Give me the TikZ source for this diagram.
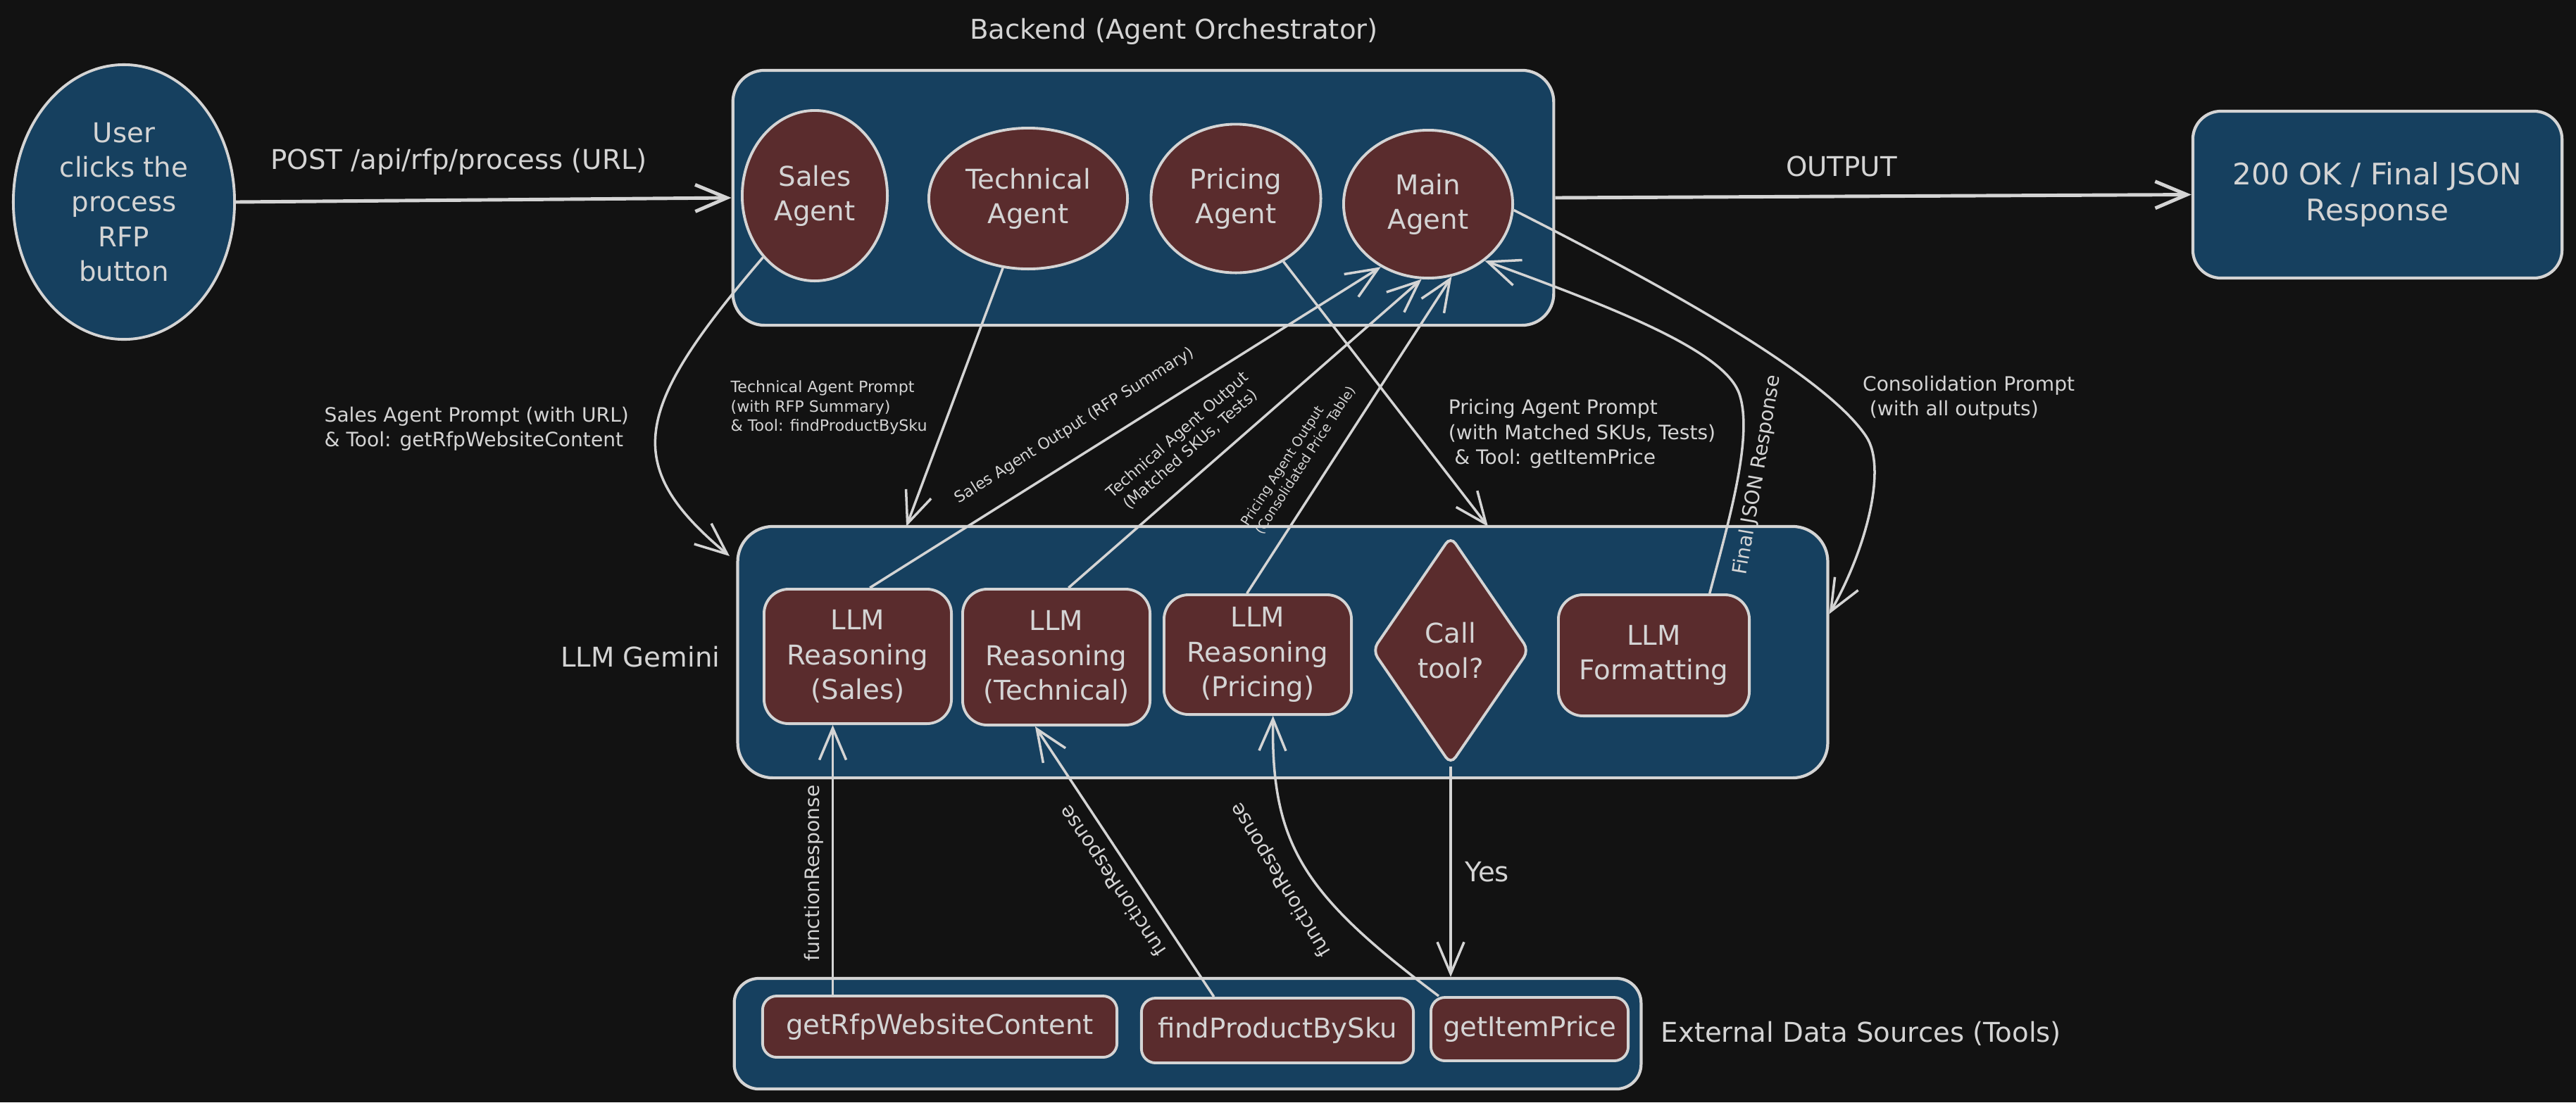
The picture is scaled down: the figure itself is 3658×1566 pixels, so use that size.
\documentclass[tikz,border=0pt]{standalone}
\usepackage{fontspec}
\setmainfont{DejaVu Sans}
\usepackage{xcolor}
\definecolor{bgcolor}{HTML}{121212}
\definecolor{groupcolor}{HTML}{16405F}
\definecolor{nodecolor}{HTML}{5A2C2D}
\definecolor{drawcolor}{HTML}{D4D4D4}
\usepackage{tikz}
\usetikzlibrary{arrows.meta, shapes.geometric}

\begin{document}
\begin{tikzpicture}[
  x=0.01cm, y=-0.01cm,
  line width=1.1pt,
  drawcolor,
  every node/.style={font=\fontsize{11}{14}\selectfont},
  group/.style={draw, fill=groupcolor, rounded corners=0.45cm, line width=1.2pt},
  agent/.style={ellipse, draw, fill=nodecolor, inner sep=0pt, align=center},
  reason/.style={draw, fill=nodecolor, rounded corners=0.35cm, inner sep=0pt, align=center, minimum width=2.66cm},
  decision/.style={diamond, draw, fill=nodecolor, inner sep=0pt, align=center, rounded corners=0.12cm},
  tool/.style={draw, fill=nodecolor, rounded corners=0.2cm, inner sep=0pt},
  flow/.style={-{Straight Barb[length=4.5mm, width=3.8mm]}, line width=1pt},
  note/.style={font=\fontsize{8}{10}\selectfont},
  fine/.style={font=\fontsize{6.3}{7.8}\selectfont},
  finer/.style={font=\fontsize{5.4}{6.6}\selectfont},
]

  \useasboundingbox (0,0) rectangle (3658,1566);
  \fill[bgcolor] (0,0) rectangle (3658,1566);

  \node[agent, fill=groupcolor, minimum width=3.14cm, minimum height=3.9cm] (user) at (176,287)
    {User\\clicks the\\process\\RFP\\button};

  % backend
  \node (backendtitle) at (1667,45) {Backend (Agent Orchestrator)};
  \node[group, minimum width=11.65cm, minimum height=3.62cm] (backend) at (1623.5,281) {};
  \node[agent, minimum width=2.06cm, minimum height=2.42cm] (sales) at (1157,278) {Sales\\Agent};
  \node[agent, minimum width=2.82cm, minimum height=2.0cm] (technical) at (1460,282) {Technical\\Agent};
  \node[agent, minimum width=2.41cm, minimum height=2.11cm] (pricing) at (1755,282) {Pricing\\Agent};
  \node[agent, minimum width=2.40cm, minimum height=2.10cm] (main) at (2028,290) {Main\\Agent};

  \node[group, rounded corners=0.4cm, minimum width=5.24cm, minimum height=2.37cm, align=center,
    font=\fontsize{12}{14.5}\selectfont] (response) at (3376,276.5) {200 OK / Final JSON\\Response};

  % llm
  \node[group, rounded corners=0.5cm, minimum width=15.47cm, minimum height=3.57cm] (llm) at (1821.5,926.5) {};
  \node[anchor=east] (gemini) at (1036,933) {LLM Gemini};
  \node[reason, minimum height=1.91cm] (rsales) at (1218,932.5) {LLM\\Reasoning\\(Sales)};
  \node[reason, minimum height=1.93cm] (rtech) at (1500,933.5) {LLM\\Reasoning\\(Technical)};
  \node[reason, minimum height=1.70cm] (rprice) at (1786,930) {LLM\\Reasoning\\(Pricing)};
  \node[decision, minimum width=2.23cm, minimum height=3.25cm] (calltool) at (2060,924) {Call\\tool?};
  \node[reason, minimum width=2.71cm, minimum height=1.72cm] (format) at (2348.5,931) {LLM\\Formatting};

  % tools
  \node[group, rounded corners=0.35cm, minimum width=12.87cm, minimum height=1.57cm] (tools) at (1686.5,1468.5) {};
  \node[anchor=west] (toolstitle) at (2345,1468) {External Data Sources (Tools)};
  \node[tool, minimum width=5.03cm, minimum height=0.87cm] (getrfp) at (1334.5,1458.5) {getRfpWebsiteContent};
  \node[tool, minimum width=3.86cm, minimum height=0.92cm] (findsku) at (1814,1464) {findProductBySku};
  \node[tool, minimum width=2.80cm, minimum height=0.90cm] (getprice) at (2172,1462) {getItemPrice};

  \coordinate (salesin) at (1036,790);
  \coordinate (techin) at (1287,748);
  \coordinate (pricein) at (2113,748);

  \draw[flow, line width=1.4pt] (user.east) -- node[pos=0.45, above=6pt] {POST /api/rfp/process (URL)} (backend.west);
  \draw[flow, line width=1.4pt] (backend.east) -- node[pos=0.45, above=4pt] {OUTPUT} (response.west);

  % prompts
  \draw[flow] (sales.230) .. controls (900,580) and (880,660) .. (salesin)
    node[pos=0.5, left=0.26cm, note, align=left] {Sales Agent Prompt (with URL)\\\& Tool: getRfpWebsiteContent};
  \draw[flow] (technical.250) -- node[pos=0.54, left=0.2cm, fine, align=left]
    {Technical Agent Prompt\\(with RFP Summary)\\\& Tool: findProductBySku} (techin);
  \draw[flow] (pricing.307) -- node[pos=0.65, right=0.32cm, note, align=left]
    {Pricing Agent Prompt\\(with Matched SKUs, Tests)\\\hspace*{0.3em}\& Tool: getItemPrice} (pricein);
  \draw[flow] (main.356) .. controls (2350,400) and (2590,530) .. (2650,620)
    node[pos=0.85, anchor=west, xshift=0.2cm, yshift=0.12cm, note, align=left]
    {Consolidation Prompt\\\hspace*{0.35em}(with all outputs)}
    .. controls (2680,665) and (2650,780) .. (llm.4);

  % outputs
  \draw[flow] (rsales.80) -- node[pos=0.43, sloped, above=4.5pt, fine] {Sales Agent Output (RFP Summary)} (main.233);
  \draw[flow] (rtech.80) -- node[pos=0.39, sloped, above=3pt, fine, align=center]
    {Technical Agent Output\\(Matched SKUs, Tests)} (main.265);
  \draw[flow] (rprice.100) -- node[pos=0.38, sloped, above=3pt, finer, align=left]
    {Pricing Agent Output\\(Consolidated Price Table)} (main.288);
  \draw[flow] (format.48) .. controls (2455,740) and (2490,620) .. (2470,560)
    node[pos=0.55, sloped, below, note] {Final JSON Response}
    .. controls (2450,500) and (2300,440) .. (main.315);

  % tool calls
  \draw[flow] (calltool.south) -- node[midway, right=2pt] {Yes} (calltool.south |- tools.north);
  \draw[flow] (rsales.250 |- getrfp.north) -- node[pos=0.45, sloped, above, note] {functionResponse} (rsales.250);
  \draw[flow] (findsku.152) -- node[pos=0.47, sloped, allow upside down, above, note] {functionResponse} (rtech.253);
  \draw[flow] (getprice.160) .. controls (1850,1270) and (1805,1200) .. (rprice.284)
    node[pos=0.5, sloped, allow upside down, above=3pt, note] {functionResponse};
\end{tikzpicture}
\end{document}
